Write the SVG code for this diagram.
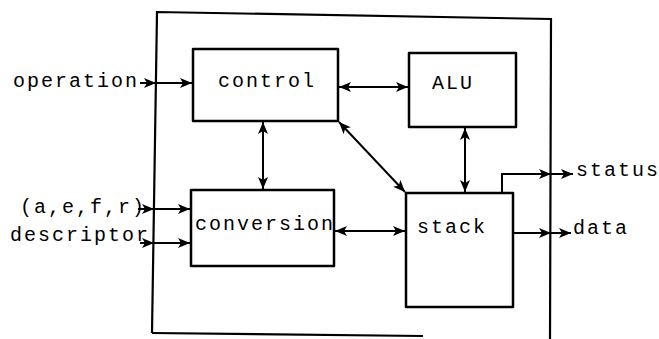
<svg xmlns="http://www.w3.org/2000/svg" width="659" height="339" viewBox="0 0 659 339">
<style>
.box{fill:none;stroke:#000;stroke-width:2.5;stroke-linejoin:round}
.frame{fill:none;stroke:#000;stroke-width:2.2}
.ln{fill:none;stroke:#000;stroke-width:2}
.arr{marker-end:url(#ah)}
.bi{marker-start:url(#ah);marker-end:url(#ah)}
.t{font-family:'Liberation Mono','Courier New',Courier,monospace;font-size:20px;letter-spacing:2px;fill:#000}
</style>
<defs>
<marker id="ah" markerUnits="userSpaceOnUse" markerWidth="14" markerHeight="12" refX="12" refY="5" orient="auto-start-reverse">
<path d="M0,0 L12,5 L0,10 L3,5 z" fill="#000"/>
</marker>
</defs>
<g id="frame">
<path class="frame" d="M152,333 L157,12 L551,19 L550,339"/>
<path class="frame" d="M152,333 L423,336"/>
</g>
<g id="control">
<rect class="box" x="193" y="49" width="145" height="72"/>
<text class="t" x="218" y="87" font-family="Liberation Mono">control</text>
</g>
<g id="alu">
<rect class="box" x="409" y="53" width="107" height="74"/>
<text class="t" x="432" y="89" font-family="Liberation Mono">ALU</text>
</g>
<g id="conversion">
<rect class="box" x="191" y="190" width="143" height="76"/>
<text class="t" x="195" y="230" font-family="Liberation Mono">conversion</text>
</g>
<g id="stack">
<rect class="box" x="406" y="193" width="107" height="114"/>
<text class="t" x="417" y="233" font-family="Liberation Mono">stack</text>
</g>
<g id="labels">
<text class="t" x="13" y="87" font-family="Liberation Mono">operation</text>
<text class="t" x="20" y="213" font-family="Liberation Mono">(a,e,f,r)</text>
<text class="t" x="10" y="241" font-family="Liberation Mono">descriptor</text>
<text class="t" x="576" y="176" font-family="Liberation Mono">status</text>
<text class="t" x="573" y="234" font-family="Liberation Mono">data</text>
</g>
<g id="connectors">
<line class="ln arr" x1="140" y1="83" x2="156" y2="83"/>
<line class="ln arr" x1="156" y1="83" x2="192" y2="83"/>
<line class="ln arr" x1="138" y1="209" x2="154" y2="209"/>
<line class="ln arr" x1="154" y1="209" x2="190" y2="209"/>
<line class="ln arr" x1="140" y1="243" x2="154" y2="243"/>
<line class="ln arr" x1="154" y1="243" x2="190" y2="243"/>
<line class="ln bi" x1="339" y1="87" x2="408" y2="87"/>
<line class="ln bi" x1="263" y1="122" x2="263" y2="189"/>
<line class="ln bi" x1="339" y1="122" x2="405" y2="192"/>
<line class="ln bi" x1="465" y1="128" x2="465" y2="192"/>
<line class="ln bi" x1="335" y1="231" x2="405" y2="231"/>
<polyline class="ln arr" points="502,193 502,174 551,174"/>
<line class="ln arr" x1="551" y1="174" x2="573" y2="174"/>
<line class="ln arr" x1="514" y1="233" x2="551" y2="233"/>
<line class="ln arr" x1="551" y1="233" x2="571" y2="233"/>
</g>
</svg>
